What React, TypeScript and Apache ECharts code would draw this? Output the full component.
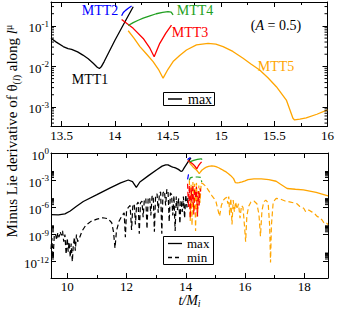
import React, { useEffect, useRef } from 'react';
import * as echarts from 'echarts';

type P = [number, number];

// values are [t/M_i, log10(value)]
const mtt1: P[] = [[13.4,-1.306],[13.45,-1.40],[13.515,-1.51],[13.56,-1.56],[13.594,-1.578],[13.65,-1.64],[13.70,-1.72],[13.75,-1.81],[13.797,-1.92],[13.835,-2.02],[13.855,-2.05],[13.875,-2.0],[13.9,-1.88],[13.95,-1.62],[14.0,-1.36],[14.06,-1.07],[14.12,-0.78],[14.173,-0.526]];
const mtt2: P[] = [[14.064,-0.75],[14.08,-0.67],[14.104,-0.61],[14.13,-0.56],[14.158,-0.51]];
const mtt3: P[] = [[14.064,-0.84],[14.173,-1.06],[14.267,-1.31],[14.33,-1.55],[14.37,-1.76],[14.423,-1.43],[14.48,-1.18],[14.533,-0.98]];
const mtt4: P[] = [[14.126,-0.99],[14.173,-0.92],[14.22,-0.86],[14.267,-0.81],[14.33,-0.75],[14.39,-0.70],[14.45,-0.665],[14.50,-0.65],[14.53,-0.66],[14.548,-0.73]];
const mtt5: P[] = [[14.126,-1.12],[14.18,-1.30],[14.236,-1.51],[14.30,-1.70],[14.36,-1.88],[14.41,-2.07],[14.454,-2.29],[14.50,-2.07],[14.548,-1.88],[14.61,-1.73],[14.674,-1.595],[14.768,-1.47],[14.877,-1.43],[14.95,-1.45],[15.018,-1.51],[15.11,-1.63],[15.206,-1.80],[15.28,-1.94],[15.362,-2.09],[15.44,-2.28],[15.519,-2.50],[15.613,-2.83],[15.675,-3.28],[15.69,-3.32],[15.74,-3.30],[15.80,-3.27],[15.90,-3.18],[16.0,-3.07]];
const mtt5Late: P[] = [[16.1,-2.95],[16.3,-2.86],[16.55,-2.86],[16.8,-2.95],[17.05,-3.12],[17.2,-3.45],[17.42,-3.92],[17.7,-4.0],[17.97,-4.07],[18.4,-4.35],[18.8,-4.72]];
const maxEarly: P[] = [[9.45,-6.8],[9.7,-6.82],[9.92,-6.72],[10.1,-6.4],[10.3,-5.9],[10.54,-5.35],[11.0,-4.6],[11.45,-3.85],[11.8,-3.3],[12.06,-2.98],[12.2,-3.15],[12.33,-3.8],[12.45,-3.2],[12.74,-2.5],[13.02,-1.85],[13.2,-1.45],[13.32,-1.3]];

const minBlack: P[] = [[9.45,-10.6],[9.48,-9.4],[9.52,-11.6],[9.56,-9.2],[9.6,-8.9],[9.64,-9.6],[9.68,-8.8],[9.72,-9.3],[9.76,-8.7],[9.8,-9.1],[9.84,-8.6],[9.88,-9.8],[9.92,-9.0],[9.96,-11.2],[10.0,-9.4],[10.03,-10.9],[10.06,-9.8],[10.1,-11.5],[10.13,-10.0],[10.17,-12.0],[10.2,-10.3],[10.24,-9.3],[10.27,-10.8],[10.31,-9.0],[10.35,-9.8],[10.42,-9.3],[10.5,-8.6],[10.62,-8.0],[10.8,-7.55],[11.0,-7.3],[11.2,-7.15],[11.38,-7.25],[11.5,-7.7],[11.56,-8.7],[11.61,-10.5],[11.66,-8.6],[11.75,-7.5],[11.85,-6.9],[11.92,-6.6],[11.96,-9.3],[12.0,-6.4],[12.06,-6.0],[12.12,-5.8],[12.17,-8.5],[12.21,-5.9],[12.26,-5.6],[12.3,-7.9],[12.34,-5.7],[12.39,-5.4],[12.43,-8.9],[12.47,-5.5],[12.52,-5.3],[12.56,-7.1],[12.6,-5.2],[12.65,-5.0],[12.69,-8.4],[12.73,-5.0],[12.78,-4.9],[12.82,-6.9],[12.86,-4.8],[12.9,-4.7],[12.94,-8.7],[12.98,-4.7],[13.03,-4.5],[13.07,-6.6],[13.11,-4.4],[13.15,-4.3],[13.19,-8.9],[13.23,-4.4],[13.28,-4.2],[13.32,-5.8],[13.36,-4.0],[13.4,-4.2],[13.44,-7.6],[13.48,-4.4],[13.52,-4.6],[13.56,-6.9],[13.6,-4.7],[13.64,-8.6],[13.68,-4.8],[13.72,-6.3],[13.76,-5.0],[13.8,-7.8],[13.84,-5.2],[13.88,-6.5],[13.92,-4.8],[13.96,-7.2],[14.0,-4.6],[14.04,-6.0],[14.08,-4.7]];
const minOrange: P[] = [[14.12,-3.0],[14.15,-7.5],[14.18,-3.5],[14.21,-8.0],[14.24,-3.2],[14.27,-6.5],[14.30,-3.4],[14.33,-8.6],[14.36,-3.3],[14.40,-7.0],[14.44,-3.6],[14.48,-5.5],[14.52,-3.3],[14.58,-3.4],[14.65,-3.6],[14.72,-3.9],[14.80,-4.3],[14.88,-4.7],[14.95,-5.0],[15.02,-5.4],[15.08,-6.2],[15.14,-7.0],[15.20,-5.8],[15.27,-5.2],[15.33,-5.0],[15.38,-4.9],[15.42,-5.6],[15.45,-4.8],[15.48,-6.9],[15.52,-5.0],[15.56,-7.9],[15.60,-5.2],[15.64,-6.5],[15.68,-5.4],[15.73,-6.2],[15.78,-5.6],[15.83,-7.2],[15.88,-5.8],[15.93,-6.0],[15.98,-8.0],[16.02,-9.8],[16.06,-7.0],[16.12,-5.9],[16.2,-5.4],[16.3,-5.3],[16.4,-5.6],[16.47,-6.8],[16.52,-9.2],[16.57,-6.4],[16.63,-5.4],[16.7,-5.2],[16.78,-5.5],[16.83,-8.0],[16.86,-12.1],[16.89,-8.0],[16.95,-5.4],[17.05,-5.0],[17.2,-5.1],[17.35,-5.3],[17.5,-5.4],[17.64,-5.5],[17.75,-5.6],[17.85,-5.9],[17.98,-6.1],[18.05,-6.5],[18.15,-6.3],[18.25,-6.5],[18.35,-6.7],[18.43,-7.0],[18.5,-7.1],[18.6,-7.4],[18.66,-7.7],[18.72,-7.6],[18.8,-7.9]];
const minRed: P[] = [[14.06,-3.4],[14.09,-6.0],[14.12,-3.6],[14.15,-7.2],[14.18,-3.8],[14.21,-5.5],[14.24,-3.5],[14.27,-6.8],[14.30,-4.0],[14.33,-5.0],[14.36,-3.7],[14.39,-7.0],[14.42,-4.2],[14.45,-5.8],[14.48,-3.9],[14.52,-4.6]];
const minBlue: P[] = [[14.06,-2.9],[14.09,-2.4],[14.12,-2.3],[14.16,-2.5]];
const minGreen: P[] = [[14.12,-3.0],[14.15,-2.75],[14.25,-2.65],[14.4,-2.65],[14.5,-2.7],[14.54,-3.2]];

const TOP_X: [number, number] = [13.4, 16];
const TOP_Y: [number, number] = [-3.47, -0.41];
const BOT_X: [number, number] = [9.45, 18.8];
const BOT_DECADES = 13.8;

const SERIF = 'Liberation Serif';
const C = { black: '#000000', blue: '#0000ff', green: '#22a022', red: '#ff0000', orange: '#ffa500' };

const richTick: any = {
  b: { fontSize: 13, fontFamily: SERIF, color: '#000', lineHeight: 13, padding: [4, 0, 0, 0] },
  s: { fontSize: 9, fontFamily: SERIF, color: '#000', lineHeight: 9, verticalAlign: 'top' },
};

function isMult(v: number, m: number) {
  return Math.abs(v / m - Math.round(v / m)) < 1e-6;
}

export default function App() {
  const ref = useRef<HTMLDivElement>(null);
  useEffect(() => {
    document.body.style.margin = '0';
    const chart = echarts.init(ref.current!, null, { renderer: 'svg' });

    const topMinor: number[] = [];
    for (let e = -4; e <= -1; e++) for (let k = 2; k <= 9; k++) {
      const v = e + Math.log10(k);
      if (v > TOP_Y[0] && v < TOP_Y[1]) topMinor.push(v);
    }
    const botMinor: number[] = [];
    for (const e of [-3, -6, -9, -12]) for (let k = 2; k <= 9; k++) {
      const v = -(e + Math.log10(k));
      if (v > 0 && v < BOT_DECADES) botMinor.push(v);
    }
    const toBot = (a: P[]) => a.map(([t, l]) => [t, -l]);

    const tick = { inside: true, length: 5, lineStyle: { color: '#000', width: 1 } };
    const minor = { show: true, splitNumber: 2, length: 3, lineStyle: { color: '#000', width: 1 } };
    const line = { show: true, onZero: false, lineStyle: { color: '#000', width: 1 } };

    const xBase = (grid: number, ext: [number, number], step: number, margin: number) => ({
      gridIndex: grid, type: 'value', min: ext[0], max: ext[1], splitNumber: 5,
      axisLine: line, axisTick: tick, minorTick: minor, splitLine: { show: false },
      axisLabel: { fontFamily: SERIF, fontSize: 13, color: '#000', margin, formatter: (v: number) => (isMult(v, step) ? String(v) : '') },
    });

    const lineSeries = (data: any[], color: string, xi: number, yi: number, dashed = false, w = 1.3) => ({
      type: 'line', data, xAxisIndex: xi, yAxisIndex: yi, showSymbol: false, symbol: 'none',
      lineStyle: { color, width: w, type: dashed ? [5, 3] : 'solid' }, silent: true,
    });

    const minorSeries = (data: number[], xi: number, yi: number, ext: [number, number], len: number) => ({
      type: 'custom', xAxisIndex: xi, yAxisIndex: yi, clip: false, silent: true, z: 5,
      data: data.map((v) => [ext[0], v]),
      renderItem: (_p: any, api: any) => {
        const v = api.value(1);
        const a = api.coord([ext[0], v]);
        const b = api.coord([ext[1], v]);
        return {
          type: 'group', children: [
            { type: 'line', shape: { x1: a[0], y1: a[1], x2: a[0] + len, y2: a[1] }, style: { stroke: '#000', lineWidth: 1 } },
            { type: 'line', shape: { x1: b[0] - len, y1: b[1], x2: b[0], y2: b[1] }, style: { stroke: '#000', lineWidth: 1 } },
          ],
        };
      },
    });

    const txt = (x: number, y: number, text: string, fill: string, size = 14, extra: any = {}) => ({
      type: 'text', x, y, z: 100,
      style: { text, fill, fontSize: size, fontFamily: SERIF, align: 'center', verticalAlign: 'middle', ...extra },
    });

    const option: any = {
      animation: false,
      backgroundColor: '#ffffff',
      grid: [
        { left: 51, right: 9, top: 2, height: 124, show: false },
        { left: 51, right: 9, top: 153, height: 125, show: false },
      ],
      xAxis: [
        xBase(0, TOP_X, 0.5, 3),
        { ...xBase(1, BOT_X, 2, 1.5), name: '{i|t/M}{s|i}', nameLocation: 'middle', nameGap: 14,
          nameTextStyle: { rich: { i: { fontSize: 14, fontStyle: 'italic', fontFamily: SERIF, color: '#000' }, s: { fontSize: 10, fontStyle: 'italic', fontFamily: SERIF, color: '#000', padding: [6, 0, 0, 0] } } } },
        { ...xBase(0, TOP_X, 0.5, 3), position: 'top', axisLabel: { show: false } },
        { ...xBase(1, BOT_X, 2, 1.5), position: 'top', axisLabel: { show: false } },
      ],
      yAxis: [
        { gridIndex: 0, type: 'value', min: TOP_Y[0], max: TOP_Y[1], splitNumber: 3,
          axisLine: line, axisTick: tick, splitLine: { show: false },
          axisLabel: { margin: 2, rich: richTick, formatter: (v: number) => (isMult(v, 1) ? `{b|10}{s|${Math.round(v)}}` : '') } },
        { gridIndex: 1, type: 'value', inverse: true, min: 0, max: BOT_DECADES, interval: 3,
          axisLine: line, axisTick: tick, splitLine: { show: false },
          axisLabel: { margin: 2, rich: richTick, formatter: (v: number) => (isMult(v, 3) ? `{b|10}{s|${v === 0 ? '0' : '-' + Math.round(v)}}` : '') } },
        { gridIndex: 0, type: 'value', position: 'right', min: TOP_Y[0], max: TOP_Y[1], splitNumber: 3,
          axisLine: line, axisTick: tick, splitLine: { show: false }, axisLabel: { show: false } },
        { gridIndex: 1, type: 'value', position: 'right', inverse: true, min: 0, max: BOT_DECADES, interval: 3,
          axisLine: line, axisTick: tick, splitLine: { show: false }, axisLabel: { show: false } },
      ],
      series: [
        minorSeries(topMinor, 0, 0, TOP_X, 3),
        minorSeries(botMinor, 1, 1, BOT_X, 3),
        // bottom panel: minima
        lineSeries(toBot(minBlack), C.black, 1, 1, true, 1.2),
        lineSeries(toBot(minOrange), C.orange, 1, 1, true, 1.2),
        lineSeries(toBot(minRed), C.red, 1, 1, true, 1.2),
        lineSeries(toBot(minGreen), C.green, 1, 1, true, 1.2),
        lineSeries(toBot(minBlue), C.blue, 1, 1, true, 1.2),
        // bottom panel: maxima
        lineSeries(toBot([...maxEarly, ...mtt1]), C.black, 1, 1),
        lineSeries(toBot([...mtt5, ...mtt5Late]), C.orange, 1, 1),
        lineSeries(toBot(mtt3), C.red, 1, 1),
        lineSeries(toBot(mtt4), C.green, 1, 1),
        lineSeries(toBot(mtt2), C.blue, 1, 1),
        // top panel
        lineSeries(mtt1, C.black, 0, 0),
        lineSeries(mtt5, C.orange, 0, 0),
        lineSeries(mtt3, C.red, 0, 0),
        lineSeries(mtt4, C.green, 0, 0),
        lineSeries(mtt2, C.blue, 0, 0),
      ],
      graphic: [
        {
          type: 'text', x: 12, y: 131, rotation: Math.PI / 2, z: 100,
          style: {
            text: '{n|Minus Lie derivative of θ}{sb|(}{si|l}{sb|)}{n| along }{i|l}{sp|μ}',
            align: 'center', verticalAlign: 'middle', fill: '#000',
            rich: {
              n: { fontSize: 15, fontFamily: SERIF, fill: '#000', lineHeight: 20 },
              i: { fontSize: 15, fontFamily: SERIF, fontStyle: 'italic', fill: '#000', lineHeight: 20 },
              sb: { fontSize: 10, fontFamily: SERIF, fill: '#000', padding: [8, 0, 0, 0] },
              si: { fontSize: 10, fontFamily: SERIF, fontStyle: 'italic', fill: '#000', padding: [8, 0, 0, 0] },
              sp: { fontSize: 10, fontFamily: SERIF, fill: '#000', padding: [0, 0, 8, 0] },
            },
          },
        },
        txt(100, 10, 'MTT2', C.blue),
        txt(195, 10, 'MTT4', C.green),
        txt(190, 32, 'MTT3', C.red),
        txt(90, 79, 'MTT1', C.black),
        txt(276, 66, 'MTT5', C.orange),
        {
          type: 'text', x: 276, y: 25, z: 100,
          style: {
            text: '({a|A} = 0.5)', align: 'center', verticalAlign: 'middle', fill: '#000',
            fontSize: 14, fontFamily: SERIF,
            rich: { a: { fontSize: 14, fontFamily: SERIF, fontStyle: 'italic', fill: '#000' } },
          },
        },
        // top legend
        { type: 'rect', z: 100, shape: { x: 163.5, y: 92.5, width: 51, height: 13 }, style: { fill: '#fff', stroke: '#000', lineWidth: 1 } },
        { type: 'line', z: 101, shape: { x1: 168, y1: 99, x2: 182, y2: 99 }, style: { stroke: '#000', lineWidth: 1.5 } },
        txt(188, 99, 'max', '#000', 14, { align: 'left' }),
        // bottom legend
        { type: 'rect', z: 100, shape: { x: 163.5, y: 236.5, width: 50, height: 28 }, style: { fill: '#fff', stroke: '#000', lineWidth: 1 } },
        { type: 'line', z: 101, shape: { x1: 168, y1: 243.5, x2: 182, y2: 243.5 }, style: { stroke: '#000', lineWidth: 1.3 } },
        txt(187, 243.3, 'max', '#000', 13, { align: 'left' }),
        { type: 'line', z: 101, shape: { x1: 168, y1: 257.5, x2: 182, y2: 257.5 }, style: { stroke: '#000', lineWidth: 1.3, lineDash: [4, 3] } },
        txt(187, 257.8, 'min', '#000', 13, { align: 'left' }),
      ],
    };
    chart.setOption(option);
    return () => chart.dispose();
  }, []);
  return <div ref={ref} style={{ width: 337, height: 315 }} />;
}
